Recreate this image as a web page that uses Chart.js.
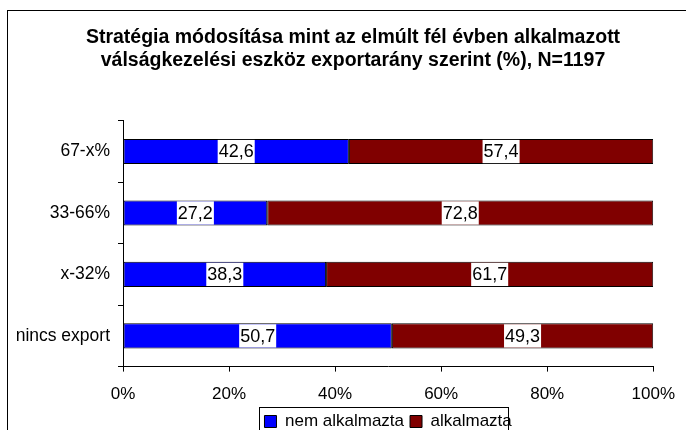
<!DOCTYPE html>
<html lang="hu">
<head>
  <meta charset="UTF-8">
  <title>Stratégia módosítása</title>
  <script src="https://cdn.jsdelivr.net/npm/chart.js@4.4.0/dist/chart.umd.min.js"></script>
  <style>
    html, body { margin: 0; padding: 0; background: #fff; overflow: hidden; }
    #keret { position: absolute; left: 7px; top: 10px; width: 720px; height: 480px;
             border-left: 1px solid #000; border-top: 1px solid #000; }
    #wrap { position: absolute; left: 0; top: 0; width: 688px; height: 440px; }
  </style>
</head>
<body>
  <div id="keret"></div>
  <div id="wrap"><canvas id="chart"></canvas></div>

  <script>
    // --- Adatok ---
    const kategoriak = ['67-x%', '33-66%', 'x-32%', 'nincs export'];
    const nemAlkalmazta = [42.6, 27.2, 38.3, 50.7];
    const alkalmazta = [57.4, 72.8, 61.7, 49.3];
    const cim = [
      'Stratégia módosítása mint az elmúlt fél évben alkalmazott',
      'válságkezelési eszköz exportarány szerint (%), N=1197'
    ];

    const betu = '"Liberation Sans", Arial, sans-serif';

    // keret a jelmagyarázat körül
    const legendKeret = {
      id: 'legendKeret',
      afterDraw(chart) {
        const hb = chart.legend.legendHitBoxes;
        if (!hb || !hb.length) return;
        const first = hb[0], last = hb[hb.length - 1];
        const l = Math.round(first.left - 5), r = Math.round(last.left + last.width - 4);
        const t = Math.round(first.top + first.height / 2 - 15);
        const c = chart.ctx;
        c.save();
        c.strokeStyle = '#000';
        c.lineWidth = 1;
        c.strokeRect(l + 0.5, t + 0.5, r - l, chart.height);
        c.restore();
      }
    };

    // értékcímkék fehér háttérrel
    const ertekek = {
      id: 'ertekek',
      afterDatasetsDraw(chart) {
        const c = chart.ctx;
        c.save();
        c.font = '18px ' + betu;
        c.textAlign = 'center';
        c.textBaseline = 'middle';
        chart.data.datasets.forEach((ds, i) => {
          chart.getDatasetMeta(i).data.forEach((bar, j) => {
            const txt = ds.data[j].toFixed(1).replace('.', ',');
            const cx = (bar.x + bar.base) / 2;
            const w = c.measureText(txt).width + 2;
            const h = bar.height - 2;
            c.fillStyle = '#fff';
            c.fillRect(cx - w / 2, bar.y - h / 2, w, h);
            c.fillStyle = '#000';
            c.fillText(txt, cx, bar.y + 1);
          });
        });
        c.restore();
      }
    };

    new Chart(document.getElementById('chart'), {
      type: 'bar',
      data: {
        labels: kategoriak,
        datasets: [
          { label: 'nem alkalmazta', data: nemAlkalmazta, backgroundColor: '#0000ff', borderColor: '#000', borderWidth: 1, borderSkipped: false },
          { label: 'alkalmazta', data: alkalmazta, backgroundColor: '#800000', borderColor: '#000', borderWidth: 1, borderSkipped: false }
        ]
      },
      options: {
        indexAxis: 'y',
        responsive: true,
        maintainAspectRatio: false,
        animation: false,
        categoryPercentage: 1,
        barPercentage: 0.41,
        // a cím közepe a diagram teljes szélessége felett van
        layout: { padding: { left: 17, right: -1, top: 0, bottom: 0 } },
        scales: {
          x: {
            stacked: true,
            min: 0,
            max: 100,
            ticks: { stepSize: 20, color: '#000', padding: 13, font: { family: betu, size: 17 }, callback: v => v + '%' },
            grid: { drawOnChartArea: false, drawTicks: true, tickLength: 5, color: '#000' },
            border: { color: '#000' },
            afterFit(scale) { scale.height -= 11; }
          },
          y: {
            stacked: true,
            ticks: { color: '#000', padding: 8, font: { family: betu, size: 17.5 } },
            grid: { drawOnChartArea: false, drawTicks: true, tickLength: 5, color: '#000', offset: true },
            border: { color: '#000' },
            afterFit(scale) { scale.width = 106; }
          }
        },
        plugins: {
          title: {
            display: true,
            text: cim,
            color: '#000',
            font: { family: betu, size: 19.5, weight: 'bold' },
            padding: { top: 26, bottom: 48 }
          },
          legend: {
            position: 'bottom',
            fullSize: false,
            labels: { color: '#000', boxWidth: 12, boxHeight: 12, padding: 6, font: { family: betu, size: 17 } }
          },
          tooltip: { enabled: false }
        }
      },
      plugins: [legendKeret, ertekek]
    });
  </script>
</body>
</html>
